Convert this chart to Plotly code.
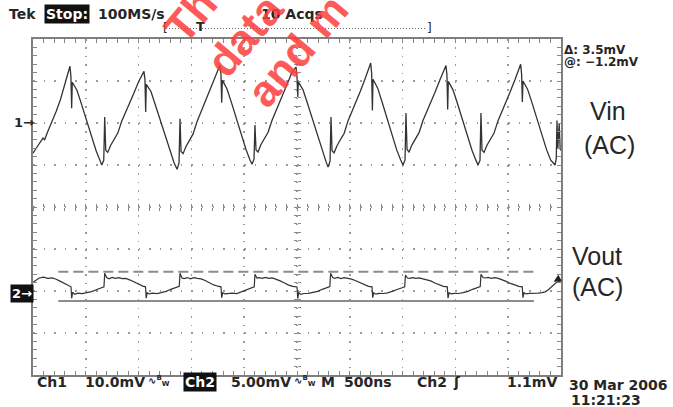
import plotly.graph_objects as go

# ---------------- data ----------------
# Channel 1 : Vin (AC), 10.0 mV/div ; time in ns (500 ns/div, 10 div)
vin_time_ns = [
    0, 28, 57, 95, 110, 140, 180, 220, 260, 300, 325, 340,
    350, 359, 366, 372, 388, 416, 454, 502, 549, 596, 634,
    651, 670, 679, 689, 708, 736, 774, 803, 840, 897, 954, 1001, 1030,
    1051, 1060, 1067, 1073, 1089, 1117, 1155, 1203, 1250, 1297, 1335,
    1364, 1383, 1392, 1402, 1421, 1449, 1487, 1516, 1553, 1610, 1667, 1714, 1743,
    1771, 1780, 1787, 1793, 1809, 1837, 1875, 1923, 1970, 2017, 2055,
    2074, 2093, 2102, 2112, 2131, 2159, 2197, 2226, 2263, 2320, 2377, 2424, 2453,
    2491, 2500, 2507, 2513, 2529, 2557, 2595, 2643, 2690, 2737, 2775,
    2794, 2813, 2822, 2832, 2851, 2879, 2917, 2946, 2983, 3040, 3097, 3144, 3173,
    3198, 3207, 3214, 3220, 3236, 3264, 3302, 3350, 3397, 3444, 3482,
    3504, 3523, 3532, 3542, 3561, 3589, 3627, 3656, 3693, 3750, 3807, 3854, 3883,
    3911, 3920, 3927, 3933, 3949, 3977, 4015, 4063, 4110, 4157, 4195,
    4214, 4233, 4242, 4252, 4271, 4299, 4337, 4366, 4403, 4460, 4517, 4564, 4593,
    4618, 4627, 4634, 4640, 4656, 4684, 4722, 4770, 4817, 4864, 4902, 4930,
    4943, 4955, 4962, 4970, 4983, 4992, 5000,
]
vin_mv = [
    -7.2, -6.0, -5.0, -3.6, -4.0, -2.0, 0.3, 2.8, 5.6, 9.0, 11.5, 12.8,
    13.5, 11.1, 3.5, 9.7, 9.0, 7.8, 4.9, 1.1, -2.9, -6.5, -8.9,
    -10.0, -8.9, 1.4, -6.5, -7.0, -5.3, -3.6, -2.4, 0.4, 3.6, 7.0, 9.9, 11.3,
    12.3, 10.4, 2.6, 9.2, 8.6, 7.5, 4.6, 0.8, -3.2, -6.9, -9.4,
    -11.0, -9.5, 1.0, -6.8, -7.3, -5.6, -3.9, -2.6, 0.3, 3.8, 7.5, 10.4, 12.4,
    13.8, 11.5, 4.8, 10.2, 9.4, 8.1, 5.2, 1.3, -2.7, -6.3, -8.8,
    -9.8, -8.6, -0.5, -6.4, -6.9, -5.1, -3.4, -2.2, 0.6, 3.9, 7.4, 10.3, 12.1,
    13.3, 11.0, 6.2, 9.8, 9.1, 7.9, 5.0, 1.2, -2.9, -6.6, -9.2,
    -10.5, -9.1, 1.4, -6.6, -7.1, -5.4, -3.7, -2.5, 0.5, 3.8, 7.4, 10.5, 12.6,
    14.3, 11.8, 3.0, 10.4, 9.6, 8.3, 5.3, 1.3, -2.8, -6.4, -8.8,
    -10.0, -8.8, 2.4, -6.3, -6.9, -5.2, -3.5, -2.3, 0.6, 3.8, 7.3, 10.3, 12.2,
    13.7, 11.4, 3.2, 9.9, 9.2, 7.9, 5.0, 1.1, -2.9, -6.5, -8.9,
    -10.0, -8.9, 2.4, -6.5, -7.0, -5.3, -3.6, -2.4, 0.5, 3.7, 7.3, 10.3, 12.3,
    14.0, 11.6, 5.0, 10.0, 9.3, 8.0, 5.1, 1.2, -2.8, -6.4, -8.8, -9.6,
    -10.0, -8.5, 0.6, -6.0, -0.1, -6.2, -6.5,
]

# Channel 2 : Vout (AC), 5.00 mV/div
vout_time_ns = [
    0, 25, 60, 100, 140, 180, 220, 260, 300, 335, 360,
    366, 376, 395, 425, 465, 510, 555, 600, 640, 672,
    679, 698, 720, 750, 780, 810, 845, 880, 920, 960, 1000, 1040, 1065,
    1072, 1082, 1102, 1132, 1172, 1215, 1260, 1305, 1350, 1385,
    1392, 1411, 1431, 1461, 1491, 1521, 1556, 1591, 1631, 1671, 1711, 1751, 1780,
    1787, 1797, 1817, 1847, 1887, 1930, 1975, 2020, 2065, 2095,
    2102, 2121, 2141, 2171, 2201, 2231, 2266, 2301, 2341, 2381, 2421, 2461, 2500,
    2507, 2517, 2537, 2567, 2607, 2650, 2695, 2740, 2785, 2811,
    2818, 2837, 2857, 2887, 2917, 2947, 2982, 3017, 3057, 3097, 3137, 3177, 3210,
    3217, 3227, 3247, 3277, 3317, 3360, 3405, 3450, 3495, 3520,
    3527, 3546, 3566, 3596, 3626, 3656, 3691, 3726, 3766, 3806, 3846, 3886, 3923,
    3930, 3940, 3960, 3990, 4030, 4073, 4118, 4163, 4208, 4235,
    4242, 4261, 4281, 4311, 4341, 4371, 4406, 4441, 4481, 4521, 4561, 4601, 4633,
    4640, 4650, 4670, 4700, 4740, 4783, 4820, 4850, 4880, 4910, 4950, 5000,
]
vout_mv = [
    1.05, 1.3, 1.55, 1.65, 1.5, 1.55, 1.4, 1.15, 0.85, 0.62, 0.5,
    -0.87, -0.15, -0.4, -0.25, -0.32, -0.2, -0.08, 0.15, 0.35, 0.5,
    2.1, 1.6, 1.45, 1.62, 1.5, 1.6, 1.48, 1.5, 1.3, 1.05, 0.78, 0.58, 0.5,
    -0.85, -0.2, -0.35, -0.25, -0.3, -0.2, -0.05, 0.2, 0.4, 0.55,
    2.1, 1.55, 1.48, 1.6, 1.45, 1.58, 1.5, 1.45, 1.25, 1.0, 0.72, 0.57, 0.5,
    -0.8, -0.2, -0.35, -0.3, -0.25, -0.3, -0.1, 0.15, 0.35, 0.5,
    2.0, 1.55, 1.6, 1.5, 1.62, 1.5, 1.55, 1.4, 1.2, 0.95, 0.7, 0.56, 0.48,
    -0.9, -0.2, -0.4, -0.3, -0.28, -0.2, -0.05, 0.2, 0.4, 0.52,
    2.1, 1.6, 1.5, 1.62, 1.48, 1.58, 1.5, 1.42, 1.22, 0.98, 0.72, 0.56, 0.5,
    -0.8, -0.2, -0.38, -0.28, -0.3, -0.22, -0.05, 0.2, 0.38, 0.5,
    1.9, 1.55, 1.5, 1.6, 1.5, 1.55, 1.45, 1.4, 1.2, 0.95, 0.72, 0.56, 0.5,
    -0.85, -0.2, -0.35, -0.28, -0.3, -0.2, -0.05, 0.2, 0.4, 0.52,
    2.0, 1.6, 1.55, 1.62, 1.5, 1.6, 1.5, 1.35, 1.15, 0.9, 0.68, 0.55, 0.5,
    -0.8, -0.2, -0.35, -0.28, -0.3, -0.25, -0.2, -0.1, 0.15, 0.45, 0.95, 1.25,
]

# cursors on Ch2 and trigger level
cursor_t_ns = [240, 4744]
cursor_at_mv = -1.2
cursor_delta_mv = 3.5
trigger_level_mv = 1.1

# scope settings
ch1_mv_per_div = 10.0
ch2_mv_per_div = 5.0
ch1_pos_div = 2
ch2_pos_div = -2
time_ns_per_div = 500

# ---------------- layout geometry ----------------
W, H = 673, 407
L, R, T, B = 33, 561, 39, 375


def px(x):
    return (x - L) / (R - L)


def py(y):
    return (B - y) / (B - T)


TRACE = "#333333"
GRID = "#9a9a9a"
TXT = "#262626"
FONT = "DejaVu Sans"

fig = go.Figure()
fig.add_trace(go.Scatter(x=vin_time_ns, y=vin_mv, mode="lines", yaxis="y",
                         line=dict(color=TRACE, width=1.3), hoverinfo="skip"))
fig.add_trace(go.Scatter(x=vout_time_ns, y=vout_mv, mode="lines", yaxis="y2",
                         line=dict(color=TRACE, width=1.2), hoverinfo="skip"))
fig.add_trace(go.Scatter(x=cursor_t_ns, y=[cursor_at_mv + cursor_delta_mv] * 2, mode="lines",
                         yaxis="y2", line=dict(color="#8c8c8c", width=2, dash="10px,5px"),
                         hoverinfo="skip"))
fig.add_trace(go.Scatter(x=cursor_t_ns, y=[cursor_at_mv] * 2, mode="lines",
                         yaxis="y2", line=dict(color="#8c8c8c", width=2), hoverinfo="skip"))
# empty traces so the centre graticule axes exist
fig.add_trace(go.Scatter(x=[], y=[], xaxis="x3", yaxis="y3", hoverinfo="skip"))
fig.add_trace(go.Scatter(x=[], y=[], xaxis="x4", yaxis="y4", hoverinfo="skip"))

t_range = [0, 10 * time_ns_per_div]
y1_range = [(-4 - ch1_pos_div) * ch1_mv_per_div, (4 - ch1_pos_div) * ch1_mv_per_div]
y2_range = [(-4 - ch2_pos_div) * ch2_mv_per_div, (4 - ch2_pos_div) * ch2_mv_per_div]

common = dict(showticklabels=False, zeroline=False, fixedrange=True)

fig.update_layout(
    width=W, height=H,
    margin=dict(l=L, r=W - R, t=T, b=H - B, pad=0),
    paper_bgcolor="#ffffff", plot_bgcolor="#ffffff",
    showlegend=False,
    xaxis=dict(range=t_range, dtick=time_ns_per_div, tick0=0, showgrid=True,
               gridcolor=GRID, gridwidth=1.5, griddash="1.5px,6.9px",
               ticks="inside", ticklen=4, tickcolor="#888", tickwidth=1,
               showline=True, linecolor="#7f7f7f", linewidth=2, mirror="ticks",
               minor=dict(dtick=time_ns_per_div / 5, ticks="inside", ticklen=4,
                          tickcolor="#888", showgrid=False),
               **common),
    yaxis=dict(range=y1_range, dtick=ch1_mv_per_div, tick0=0, showgrid=True,
               gridcolor=GRID, gridwidth=1.5, griddash="1.5px,9.06px",
               ticks="inside", ticklen=4, tickcolor="#888", tickwidth=1,
               showline=True, linecolor="#7f7f7f", linewidth=2, mirror="ticks",
               minor=dict(dtick=ch1_mv_per_div / 5, ticks="inside", ticklen=4,
                          tickcolor="#888", showgrid=False),
               **common),
    yaxis2=dict(range=y2_range, overlaying="y", visible=False, fixedrange=True),
    xaxis3=dict(range=t_range, overlaying="x", anchor="free", position=0.5,
                dtick=time_ns_per_div / 5, tick0=0, ticks="inside", ticklen=3,
                tickcolor="#888", showgrid=False, showline=False, **common),
    yaxis3=dict(range=y1_range, overlaying="y", anchor="free", position=0.5,
                dtick=ch1_mv_per_div / 5, tick0=0, ticks="inside", ticklen=3,
                tickcolor="#888", showgrid=False, showline=False, **common),
    xaxis4=dict(range=t_range, overlaying="x", anchor="free", position=0.5,
                dtick=time_ns_per_div / 5, tick0=0, ticks="outside", ticklen=3,
                tickcolor="#888", showgrid=False, showline=False, **common),
    yaxis4=dict(range=y1_range, overlaying="y", anchor="free", position=0.5,
                dtick=ch1_mv_per_div / 5, tick0=0, ticks="outside", ticklen=3,
                tickcolor="#888", showgrid=False, showline=False, **common),
)

ann = []


def text(x, y, s, size=14, anchor="left", color=TXT, font=FONT, bold=True, bg=None, angle=0, pad=1):
    ann.append(dict(x=px(x), y=py(y), xref="paper", yref="paper", text=("<b>%s</b>" % s) if bold else s,
                    showarrow=False, xanchor=anchor, yanchor="middle",
                    font=dict(family=font, size=size, color=color),
                    bgcolor=bg, borderpad=pad, textangle=angle))


# header
text(7, 14, "Tek")
text(44, 14, "Stop:", color="#ffffff", bg="#111111")
text(96, 14, "100MS/s")
text(259, 14, "10 Acqs")
# record bar
text(161, 28, "[", size=12, bold=False)
text(200, 27, "T", size=13, anchor="center")
text(425, 28, "]", size=12, bold=False)
# cursor readout
text(563, 49.5, "Δ: 3.5mV", size=12, pad=0)
text(563, 62, "@: −1.2mV", size=12, pad=0)
# channel labels
text(588, 111, "Vin", size=25, bold=False, font="Liberation Sans")
text(582, 145, "(AC)", size=25, bold=False, font="Liberation Sans")
text(570, 256, "Vout", size=25, bold=False, font="Liberation Sans")
text(570, 287, "(AC)", size=25, bold=False, font="Liberation Sans")
# ground markers
text(12, 122, "1→", size=13)
text(10, 293, "2→", size=13, color="#ffffff", bg="#111111")
# footer
text(35, 382, "Ch1")
text(83, 382, "10.0mV")
text(146, 381, "∿<sup>B</sup><sub>W</sub>", size=10)
text(183, 382, "Ch2", color="#ffffff", bg="#111111")
text(229, 382, "5.00mV")
text(292, 381, "∿<sup>B</sup><sub>W</sub>", size=10)
text(319, 382, "M")
text(342, 382, "500ns")
text(415, 382, "Ch2")
text(451, 382, "ʃ")
text(505, 382, "1.1mV")
text(567, 385, "30 Mar 2006")
text(569, 400, "11:21:23")
# watermark
for (wx, wy, ws) in [(190, 15, "Th"), (244, 35, "data"), (297, 50, "and m")]:
    ann.append(dict(x=px(wx), y=py(wy), xref="paper", yref="paper", text="<b>%s</b>" % ws,
                    showarrow=False, xanchor="center", yanchor="middle", textangle=-50,
                    font=dict(family="Liberation Sans", size=44, color="rgba(255,60,60,0.85)")))

# trigger-level arrow for Ch2
ann.append(dict(x=t_range[1] - 70, y=trigger_level_mv, xref="x", yref="y2", text="",
                showarrow=True, arrowhead=2, arrowsize=1, arrowwidth=1.5, arrowcolor="#222",
                ax=7, ay=-4))

fig.update_layout(annotations=ann)

# record-length dotted bar at top
fig.add_shape(type="line", xref="paper", yref="paper", x0=px(166), x1=px(427), y0=py(28.5), y1=py(28.5),
              line=dict(color="#666", width=1, dash="1px,2px"))

fig.write_html("out.html", config={"displayModeBar": False, "staticPlot": True},
               post_script="document.body.style.margin='0px';document.body.style.overflow='hidden';")
